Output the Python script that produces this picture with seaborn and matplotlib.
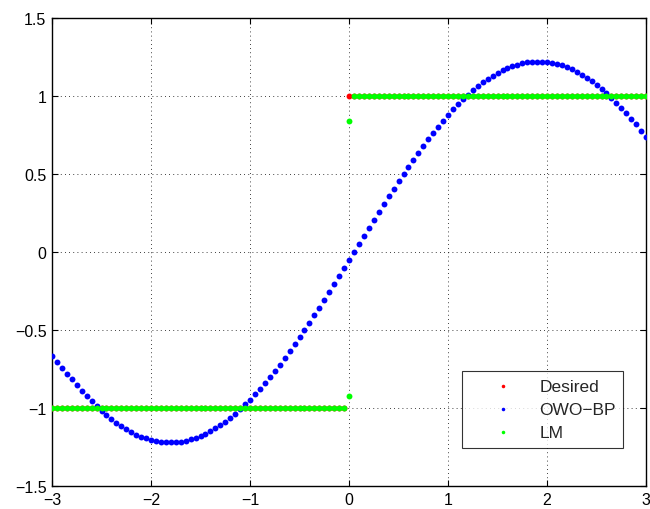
import numpy as np
import pandas as pd
import matplotlib
matplotlib.use("Agg")
import matplotlib.pyplot as plt
import seaborn as sns

sns.set_theme(style="ticks")
plt.rcParams["font.family"] = ["Liberation Sans", "DejaVu Sans"]

# sample positions
x_neg = [-3.00, -2.95, -2.90, -2.85, -2.80, -2.75, -2.70, -2.65, -2.60, -2.55,
         -2.50, -2.45, -2.40, -2.35, -2.30, -2.25, -2.20, -2.15, -2.10, -2.05,
         -2.00, -1.95, -1.90, -1.85, -1.80, -1.75, -1.70, -1.65, -1.60, -1.55,
         -1.50, -1.45, -1.40, -1.35, -1.30, -1.25, -1.20, -1.15, -1.10, -1.05,
         -1.00, -0.95, -0.90, -0.85, -0.80, -0.75, -0.70, -0.65, -0.60, -0.55,
         -0.50, -0.45, -0.40, -0.35, -0.30, -0.25, -0.20, -0.15, -0.10, -0.05]
x_zero = [0.0]
x_pos = [0.05, 0.10, 0.15, 0.20, 0.25, 0.30, 0.35, 0.40, 0.45, 0.50,
         0.55, 0.60, 0.65, 0.70, 0.75, 0.80, 0.85, 0.90, 0.95, 1.00,
         1.05, 1.10, 1.15, 1.20, 1.25, 1.30, 1.35, 1.40, 1.45, 1.50,
         1.55, 1.60, 1.65, 1.70, 1.75, 1.80, 1.85, 1.90, 1.95, 2.00,
         2.05, 2.10, 2.15, 2.20, 2.25, 2.30, 2.35, 2.40, 2.45, 2.50,
         2.55, 2.60, 2.65, 2.70, 2.75, 2.80, 2.85, 2.90, 2.95, 3.00]

# OWO-BP network output
owo_neg = [-0.668, -0.705, -0.742, -0.780, -0.817, -0.854, -0.890, -0.924, -0.957, -0.988,
           -1.017, -1.045, -1.071, -1.095, -1.117, -1.136, -1.154, -1.170, -1.183, -1.195,
           -1.204, -1.211, -1.216, -1.219, -1.220, -1.219, -1.215, -1.209, -1.201, -1.191,
           -1.179, -1.164, -1.148, -1.130, -1.109, -1.087, -1.062, -1.036, -1.007, -0.977,
           -0.946, -0.913, -0.878, -0.841, -0.803, -0.763, -0.722, -0.680, -0.637, -0.592,
           -0.547, -0.500, -0.453, -0.405, -0.356, -0.306, -0.256, -0.205, -0.154, -0.103]
owo_zero = [-0.052]
owo_pos = [0.000, 0.052, 0.103, 0.154, 0.205, 0.256, 0.306, 0.356, 0.405, 0.453,
           0.500, 0.547, 0.592, 0.637, 0.680, 0.722, 0.763, 0.803, 0.841, 0.878,
           0.913, 0.946, 0.977, 1.007, 1.036, 1.062, 1.087, 1.109, 1.130, 1.148,
           1.164, 1.179, 1.191, 1.201, 1.209, 1.215, 1.219, 1.220, 1.219, 1.216,
           1.211, 1.204, 1.195, 1.183, 1.170, 1.154, 1.136, 1.117, 1.095, 1.071,
           1.045, 1.017, 0.988, 0.957, 0.924, 0.890, 0.854, 0.817, 0.778, 0.737]

# Desired (step) and LM outputs
desired_neg = [-1.0] * len(x_neg)
desired_zero = [1.0]
desired_pos = [1.0] * len(x_pos)
lm_neg = [-1.0] * len(x_neg)
lm_zero_x = [0.0, 0.0]
lm_zero_y = [0.84, -0.92]
lm_pos = [1.0] * len(x_pos)

x_ticks = [-3, -2, -1, 0, 1, 2, 3]
y_ticks = [-1.5, -1, -0.5, 0, 0.5, 1, 1.5]
x_labels = ["\u22123", "\u22122", "\u22121", "0", "1", "2", "3"]
y_labels = ["\u22121.5", "\u22121", "\u22120.5", "0", "0.5", "1", "1.5"]

x_all = x_neg + x_zero + x_pos
df_des = pd.DataFrame({"x": x_all, "y": desired_neg + desired_zero + desired_pos})
df_owo = pd.DataFrame({"x": x_all, "y": owo_neg + owo_zero + owo_pos})
df_lm = pd.DataFrame({"x": x_neg + lm_zero_x + x_pos, "y": lm_neg + lm_zero_y + lm_pos})

fig = plt.figure(figsize=(6.5, 5.1), dpi=100)
ax = fig.add_axes([0.08, 0.045, 0.914, 0.918])

ms = 18
sns.scatterplot(data=df_des, x="x", y="y", ax=ax, color=(1, 0, 0), s=ms, linewidth=0,
                label="Desired", zorder=3)
sns.scatterplot(data=df_owo, x="x", y="y", ax=ax, color=(0, 0, 1), s=ms, linewidth=0,
                label="OWO\u2212BP", zorder=4)
sns.scatterplot(data=df_lm, x="x", y="y", ax=ax, color=(0, 1, 0), s=ms, linewidth=0,
                label="LM", zorder=5)

ax.set_xlim(-3, 3)
ax.set_ylim(-1.5, 1.5)
ax.set_xticks(x_ticks)
ax.set_xticklabels(x_labels)
ax.set_yticks(y_ticks)
ax.set_yticklabels(y_labels)
ax.set_xlabel("")
ax.set_ylabel("")
ax.grid(True, color="black", linestyle=(0, (1, 4)), linewidth=0.6)
ax.tick_params(direction="in", top=True, right=True, length=4, width=0.8,
               labelsize=11.5, colors="black", pad=4)
for sp in ax.spines.values():
    sp.set_visible(True)
    sp.set_color("black")
    sp.set_linewidth(1.0)

leg = ax.legend(loc="upper left", bbox_to_anchor=(0.690, 0.2457), borderaxespad=0,
                fontsize=12.5, frameon=True, fancybox=False,
                markerscale=0.6, handletextpad=0.2, borderpad=0.45, labelspacing=0.45,
                handlelength=3.8)
leg.get_frame().set_edgecolor("black")
leg.get_frame().set_linewidth(0.8)

fig.savefig("out.png", dpi=100)
